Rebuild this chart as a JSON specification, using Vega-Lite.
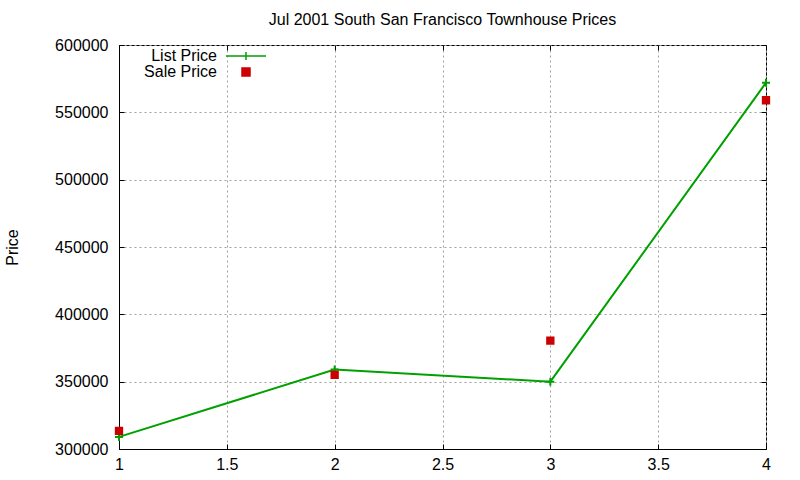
{
  "$schema": "https://vega.github.io/schema/vega-lite/v6.json",
  "width": 647,
  "height": 404,
  "autosize": {"type": "none"},
  "padding": {"left": 119, "top": 45, "right": 34, "bottom": 31},
  "background": "white",
  "title": {
    "text": "Jul 2001 South San Francisco Townhouse Prices",
    "fontSize": 16,
    "fontWeight": "normal",
    "font": "Liberation Sans",
    "color": "black",
    "offset": 9
  },
  "data": {
    "values": [
      {"x": 1, "price": 309000, "series": "List Price"},
      {"x": 2, "price": 359000, "series": "List Price"},
      {"x": 3, "price": 350000, "series": "List Price"},
      {"x": 4, "price": 572000, "series": "List Price"},
      {"x": 1, "price": 313500, "series": "Sale Price"},
      {"x": 2, "price": 355000, "series": "Sale Price"},
      {"x": 3, "price": 380500, "series": "Sale Price"},
      {"x": 4, "price": 559000, "series": "Sale Price"}
    ]
  },
  "resolve": {"axis": {"x": "independent", "y": "independent"}},
  "layer": [
    {
      "mark": {"type": "point", "opacity": 0},
      "encoding": {
        "x": {
          "field": "x",
          "type": "quantitative",
          "scale": {"domain": [1, 4], "nice": false, "zero": false},
          "axis": {"orient": "top", "title": null, "labels": false, "grid": false, "domain": false, "values": [1, 1.5, 2, 2.5, 3, 3.5, 4], "tickSize": -5}
        },
        "y": {
          "field": "price",
          "type": "quantitative",
          "scale": {"domain": [300000, 600000], "nice": false, "zero": false},
          "axis": {"orient": "right", "title": null, "labels": false, "grid": false, "domain": false, "values": [300000, 350000, 400000, 450000, 500000, 550000, 600000], "tickSize": -5}
        }
      }
    },
    {
      "transform": [{"filter": "datum.series == 'List Price'"}],
      "mark": {"type": "line", "color": "#00a000", "strokeWidth": 2},
      "encoding": {
        "x": {
          "field": "x",
          "type": "quantitative",
          "axis": {
            "orient": "bottom",
            "title": null,
            "values": [1, 1.5, 2, 2.5, 3, 3.5, 4],
            "format": "~g",
            "grid": true,
            "tickSize": -5,
            "labelFlush": false,
            "labelPadding": 12
          }
        },
        "y": {
          "field": "price",
          "type": "quantitative",
          "axis": {
            "orient": "left",
            "title": "Price",
            "values": [300000, 350000, 400000, 450000, 500000, 550000, 600000],
            "format": "d",
            "grid": true,
            "tickSize": -5,
            "labelFlush": false,
            "labelPadding": 16,
            "titlePadding": 34
          }
        }
      }
    },
    {
      "transform": [{"filter": "datum.series == 'List Price'"}],
      "mark": {"type": "point", "shape": "M-1,0H1M0,-1V1", "size": 64, "filled": false, "stroke": "#00a000", "strokeWidth": 2, "opacity": 1},
      "encoding": {
        "x": {"field": "x", "type": "quantitative", "axis": null},
        "y": {"field": "price", "type": "quantitative", "axis": null}
      }
    },
    {
      "transform": [{"filter": "datum.series == 'Sale Price'"}],
      "mark": {"type": "point", "filled": true, "opacity": 1, "strokeWidth": 2, "size": 40},
      "encoding": {
        "x": {"field": "x", "type": "quantitative", "axis": null},
        "y": {"field": "price", "type": "quantitative", "axis": null},
        "color": {
          "field": "series",
          "type": "nominal",
          "scale": {"domain": ["List Price", "Sale Price"], "range": ["#00a000", "#cc0000"]},
          "legend": {
            "title": null,
            "orient": "none",
            "legendX": 119,
            "legendY": 3,
            "symbolSize": 64,
            "rowPadding": 0,
            "labelAlign": "right",
            "labelOffset": -37,
            "labelFontSize": 16,
            "labelFont": "Liberation Sans",
            "labelColor": "black"
          }
        },
        "shape": {
          "field": "series",
          "type": "nominal",
          "scale": {"domain": ["List Price", "Sale Price"], "range": ["M-5,0H5M0,-1V1", "square"]}
        },
        "stroke": {
          "field": "series",
          "type": "nominal",
          "scale": {"domain": ["List Price", "Sale Price"], "range": ["#00a000", "#cc0000"]},
          "legend": null
        }
      }
    }
  ],
  "config": {
    "font": "Liberation Sans",
    "view": {"stroke": "black", "strokeWidth": 1},
    "legend": {"labelFontSize": 16, "labelFont": "Liberation Sans"},
    "axis": {
      "labelFontSize": 16,
      "labelFont": "Liberation Sans",
      "labelColor": "black",
      "titleFontSize": 16,
      "titleFont": "Liberation Sans",
      "titleFontWeight": "normal",
      "titleColor": "black",
      "domainColor": "black",
      "tickColor": "black",
      "gridColor": "#a0a0a0",
      "gridDash": [2, 3],
      "gridOpacity": 1
    }
  }
}
